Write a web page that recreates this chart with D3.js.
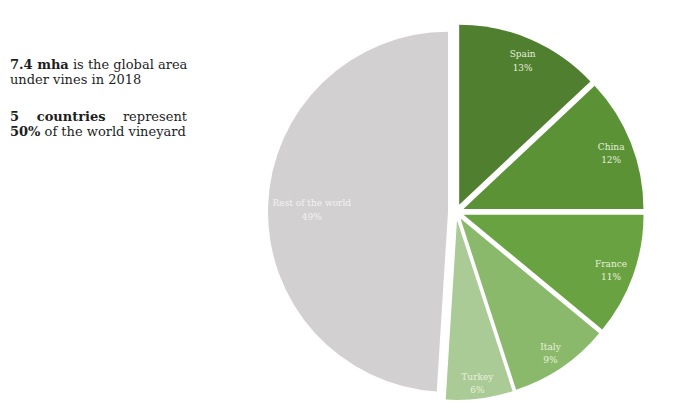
<!DOCTYPE html>
<html>
<head>
<meta charset="utf-8">
<script src="https://cdn.jsdelivr.net/npm/d3@7"></script>
<style>
  body { margin: 0; background: #fff; }
  #note {
    position: absolute; left: 10px; top: 57px; width: 177px;
    font-family: "DejaVu Serif", serif; font-size: 13px; line-height: 15px;
    color: #1e1e1e; letter-spacing: 0;
  }
  #note div { white-space: nowrap; }
  #note .just { text-align: justify; text-align-last: justify; }
  #note .gap { margin-top: 22px; }
  #note b { font-weight: bold; }
</style>
</head>
<body>
<div id="note"></div>
<svg id="chart" width="683" height="416" style="position:absolute;left:0;top:0"></svg>
<script>
// vineyard share by country, 2018
var countries = ["Spain", "China", "France", "Italy", "Turkey", "Rest of the world"];
var shares = [13, 12, 11, 9, 6, 49];
var colors = ["#4f7f2f", "#5b9236", "#68a241", "#8bb96c", "#aacb96", "#d3d0d1"];
var noteLines = [
  "<b>7.4 mha</b> is the global area",
  "under vines in 2018",
  "<b>5 countries</b> represent",
  "<b>50%</b> of the world vineyard"
];

var note = d3.select("#note");
note.selectAll("div").data(noteLines).enter().append("div")
  .attr("class", function(d, i){ return (i == 2 ? "just gap" : ""); })
  .html(function(d){ return d; });

var svg = d3.select("#chart");
var cx = 456, cy = 212, r = 180, explode = 8;

var pie = d3.pie().sort(null).value(function(d){ return d; });
var arcs = pie(shares);
var arc = d3.arc().innerRadius(0).outerRadius(r);

var g = svg.append("g").attr("transform", "translate(" + cx + "," + cy + ")");

var slice = g.selectAll("g.slice")
  .data(arcs)
  .enter().append("g")
  .attr("class", "slice")
  .attr("transform", function(d){
    var a = (d.startAngle + d.endAngle) / 2;
    return "translate(" + (Math.sin(a) * explode) + "," + (-Math.cos(a) * explode) + ")";
  });

slice.append("path")
  .attr("d", arc)
  .attr("fill", function(d, i){ return colors[i]; });

slice.each(function(d, i){
  var a = (d.startAngle + d.endAngle) / 2;
  var t = d3.select(this).append("text")
    .attr("text-anchor", "middle")
    .style("font-family", "DejaVu Serif, serif")
    .style("font-size", "9px")
    .attr("fill", i == 5 ? "#f2f2f2" : "#e8f0de");
  t.append("tspan").attr("x", 0).attr("dy", "0").text(countries[i]);
  t.append("tspan").attr("x", 0).attr("dy", "13.5").text(d.data + "%");
  var w = t.node().getBBox().width;
  var h = 24;
  var dist = r - 4 - Math.abs(Math.sin(a)) * w / 2 - Math.abs(Math.cos(a)) * h / 2;
  t.attr("transform", "translate(" + (Math.sin(a) * dist) + "," + (-Math.cos(a) * dist - 1) + ")");
});
</script>
</body>
</html>
